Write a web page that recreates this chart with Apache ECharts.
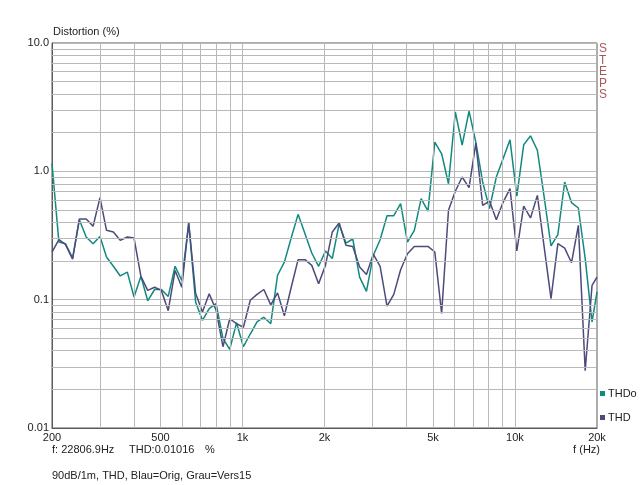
<!DOCTYPE html>
<html>
<head>
<meta charset="utf-8">
<script src="https://cdn.jsdelivr.net/npm/echarts@6/dist/echarts.min.js"></script>
<style>
html, body { margin: 0; padding: 0; background: #fff; }
#chart { width: 640px; height: 485px; }
</style>
</head>
<body>
<div id="chart"></div>
<script>
// 1/12 octave steps, 200 Hz .. 20 kHz
var freqs = [200, 212, 224, 238, 252, 267, 283, 300, 317, 336, 356, 378,
	400, 424, 449, 476, 504, 534, 566, 599, 635, 673, 713, 755,
	800, 848, 898, 951, 1008, 1068, 1131, 1198, 1270, 1345, 1425, 1510,
	1600, 1696, 1796, 1903, 2016, 2136, 2263, 2397, 2540, 2691, 2851, 3020,
	3200, 3392, 3592, 3805, 4032, 4272, 4526, 4795, 5080, 5382, 5702, 6041,
	6400, 6784, 7184, 7611, 8063, 8543, 9051, 9589, 10159, 10764, 11404, 12082,
	12800, 13561, 14367, 15221, 16127, 17086, 18102, 19178, 20000];

// THDo (Blau = Orig)
var thdo = [1.15, 0.281, 0.273, 0.211, 0.42, 0.308, 0.273, 0.311, 0.215, 0.182, 0.153, 0.164,
	0.105, 0.152, 0.098, 0.12, 0.12, 0.106, 0.182, 0.141, 0.396, 0.096, 0.069, 0.085,
	0.093, 0.05, 0.041, 0.066, 0.043, 0.054, 0.067, 0.073, 0.065, 0.155, 0.196, 0.304,
	0.462, 0.327, 0.231, 0.182, 0.239, 0.209, 0.39, 0.276, 0.297, 0.15, 0.116, 0.221,
	0.293, 0.451, 0.451, 0.56, 0.281, 0.347, 0.612, 0.49, 1.69, 1.37, 0.80, 2.9,
	1.6, 2.95, 1.69, 0.826, 0.512, 0.903, 1.26, 1.76, 0.64, 1.61, 1.89, 1.46,
	0.63, 0.262, 0.321, 0.826, 0.57, 0.518, 0.209, 0.067, 0.115];

// THD (Grau = Vers15)
var thd = [0.235, 0.294, 0.27, 0.207, 0.425, 0.425, 0.373, 0.624, 0.347, 0.337, 0.29, 0.308,
	0.302, 0.152, 0.118, 0.125, 0.118, 0.082, 0.169, 0.125, 0.396, 0.112, 0.080, 0.111,
	0.083, 0.043, 0.071, 0.065, 0.061, 0.099, 0.110, 0.12, 0.091, 0.113, 0.075, 0.125,
	0.205, 0.205, 0.185, 0.133, 0.185, 0.337, 0.396, 0.265, 0.26, 0.18, 0.157, 0.226,
	0.182, 0.089, 0.110, 0.171, 0.228, 0.26, 0.26, 0.26, 0.235, 0.078, 0.497, 0.70,
	0.903, 0.746, 1.66, 0.543, 0.587, 0.42, 0.576, 0.733, 0.24, 0.536, 0.433, 0.65,
	0.257, 0.102, 0.273, 0.252, 0.194, 0.379, 0.028, 0.129, 0.150];

var xTicks = [200, 500, 1000, 2000, 5000, 10000, 20000];
var xTickLabels = ["200", "500", "1k", "2k", "5k", "10k", "20k"];
var xGridValues = [300, 400, 600, 700, 800, 900, 3000, 4000, 6000, 7000, 8000, 9000];
var yGridValues = [0.02, 0.03, 0.04, 0.05, 0.06, 0.07, 0.08, 0.09,
	0.2, 0.3, 0.4, 0.5, 0.6, 0.7, 0.8, 0.9,
	2, 3, 4, 5, 6, 7, 8, 9];

var font = "'Liberation Sans', Arial, sans-serif";
var gridColor = "#b9b9b9";

// grid lines + x tick labels as markLines on the log axes
var gridLines = [];
var i;
for (i = 0; i < xGridValues.length; i++) {
	gridLines.push({ xAxis: xGridValues[i] });
}
for (i = 0; i < xTicks.length; i++) {
	var item = {
		xAxis: xTicks[i],
		label: { show: true, formatter: xTickLabels[i] }
	};
	if (xTicks[i] == 200 || xTicks[i] == 20000) {
		item.lineStyle = { color: "rgba(0,0,0,0)" };
	}
	gridLines.push(item);
}
for (i = 0; i < yGridValues.length; i++) {
	gridLines.push({ yAxis: yGridValues[i] });
}

function pairs(vals) {
	var out = [];
	for (var k = 0; k < freqs.length; k++) out.push([freqs[k], vals[k]]);
	return out;
}

var myChart = echarts.init(document.getElementById("chart"), null, { renderer: "canvas" });

var option = {
	animation : false,
	backgroundColor : "#ffffff",
	textStyle : { fontFamily : font },
	grid : {
		left : 52,
		right : 43,
		top : 43,
		bottom : 57,
		show : true,
		borderColor : "#5a5a5a",
		borderWidth : 1
	},
	legend : {
		orient : "vertical",
		left : 600,
		top : 388,
		padding : 0,
		itemGap : 13,
		itemWidth : 5,
		itemHeight : 5,
		icon : "rect",
		textStyle : { fontSize : 11, color : "#222", fontFamily : font, padding : [0, 0, 0, -2] },
		data : [ "THDo", "THD" ]
	},
	xAxis : {
		type : "log",
		logBase : 10,
		min : 200,
		max : 20000,
		axisLine : { show : true, lineStyle : { color : "#5a5a5a", width : 1 } },
		axisTick : { show : false },
		axisLabel : { show : false },
		splitLine : { show : false }
	},
	yAxis : {
		type : "log",
		logBase : 10,
		min : 0.01,
		max : 10,
		axisLine : { show : true, lineStyle : { color : "#5a5a5a", width : 1 } },
		axisTick : { show : false },
		axisLabel : {
			fontSize : 11,
			color : "#222",
			fontFamily : font,
			margin : 3,
			formatter : function(v) {
				var n = Number(v.toPrecision(3));
				return n >= 1 ? n.toFixed(1) : String(n);
			}
		},
		splitLine : { show : true, lineStyle : { color : gridColor, width : 1 } }
	},
	graphic : [
		{ type : "text", left : 53, top : 26, style : { text : "Distortion (%)", fontSize : 11, fill : "#222", fontFamily : font } },
		{ type : "text", left : 599, top : 43, style : { text : "S\nT\nE\nP\nS", fontSize : 12, lineHeight : 11.5, fill : "#a85a5a", fontFamily : font } },
		{ type : "text", left : 52, top : 444, style : { text : "f: 22806.9Hz", fontSize : 11, fill : "#222", fontFamily : font } },
		{ type : "text", left : 129, top : 444, style : { text : "THD:0.01016", fontSize : 11, fill : "#222", fontFamily : font } },
		{ type : "text", left : 205, top : 444, style : { text : "%", fontSize : 11, fill : "#222", fontFamily : font } },
		{ type : "text", right : 40, top : 444, style : { text : "f (Hz)", fontSize : 11, fill : "#222", fontFamily : font } },
		{ type : "text", left : 52, top : 470, style : { text : "90dB/1m, THD, Blau=Orig, Grau=Vers15", fontSize : 11, fill : "#222", fontFamily : font } }
	],
	series : [ {
		name : "grid",
		type : "line",
		data : [],
		z : 1,
		silent : true,
		markLine : {
			silent : true,
			symbol : [ "none", "none" ],
			animation : false,
			lineStyle : { color : gridColor, type : "solid", width : 1 },
			label : { show : false, position : "start", distance : 4, fontSize : 11, color : "#222", fontFamily : font },
			emphasis : { disabled : true },
			data : gridLines
		}
	}, {
		name : "THDo",
		type : "line",
		z : 3,
		data : pairs(thdo),
		showSymbol : false,
		color : "#108a7f",
		lineStyle : { color : "#108a7f", width : 1.5 }
	}, {
		name : "THD",
		type : "line",
		z : 4,
		data : pairs(thd),
		showSymbol : false,
		color : "#4d4a7c",
		lineStyle : { color : "#4d4a7c", width : 1.5 }
	} ]
};
myChart.setOption(option);
</script>
</body>
</html>
